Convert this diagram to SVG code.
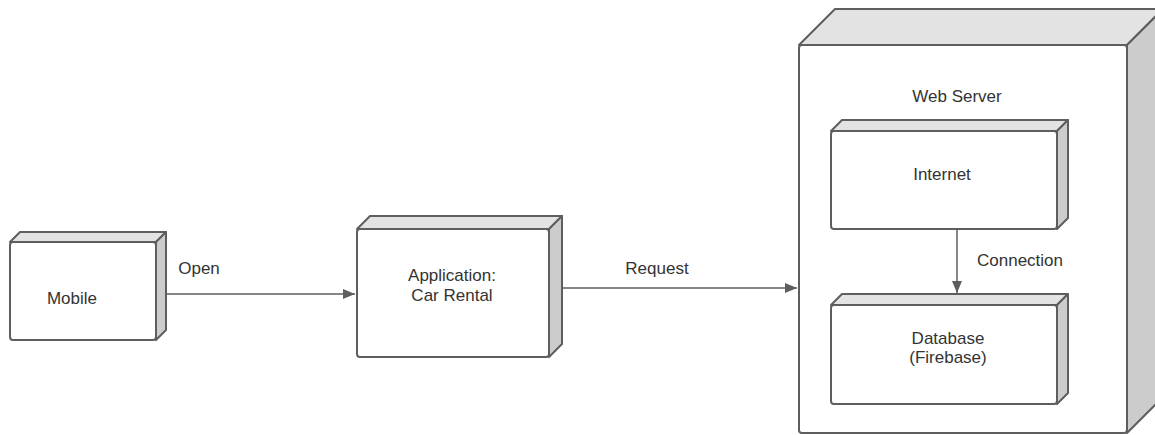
<svg xmlns="http://www.w3.org/2000/svg" width="1155" height="435" viewBox="0 0 1155 435">
  <style>
    .front { fill: #ffffff; stroke: #5e5e5e; stroke-width: 2; }
    .top { fill: #e3e3e3; stroke: #5e5e5e; stroke-width: 2; stroke-linejoin: round; }
    .side { fill: #cccccc; stroke: #5e5e5e; stroke-width: 2; stroke-linejoin: round; }
    .lbl { font-family: "Liberation Sans", Arial, sans-serif; font-size: 17px; fill: #333333; text-anchor: middle; }
    .edge { stroke: #5e5e5e; stroke-width: 1.5; fill: none; marker-end: url(#arrow); }
  </style>
  <defs>
    <marker id="arrow" viewBox="0 0 12 10" refX="12" refY="5" markerWidth="12" markerHeight="10" markerUnits="userSpaceOnUse" orient="auto">
      <path d="M0,0 L12,5 L0,10 Z" fill="#5e5e5e"/>
    </marker>
  </defs>
  <rect width="1155" height="435" fill="#ffffff"/>

  <!-- Mobile device node -->
  <g id="mobile">
    <path class="top" d="M10,242 L20,232 L166,232 L156,242 Z"/>
    <path class="side" d="M156,242 L166,232 L166,330 L156,340 Z"/>
    <rect class="front" x="10" y="242" width="146" height="98" rx="3"/>
    <text class="lbl" x="72" y="304">Mobile</text>
  </g>

  <!-- Application node -->
  <g id="application">
    <path class="top" d="M357,229 L370,216 L562,216 L549,229 Z"/>
    <path class="side" d="M549,229 L562,216 L562,344 L549,357 Z"/>
    <rect class="front" x="357" y="229" width="192" height="128" rx="3"/>
    <text class="lbl" x="452" y="281">Application:</text>
    <text class="lbl" x="452" y="301">Car Rental</text>
  </g>

  <!-- Web server node with nested nodes -->
  <g id="web-server">
    <path class="top" d="M799,45 L835,9 L1163,9 L1127,45 Z"/>
    <path class="side" d="M1127,45 L1163,9 L1163,397 L1127,433 Z"/>
    <rect class="front" x="799" y="45" width="328" height="388" rx="3"/>
    <text class="lbl" x="957" y="102">Web Server</text>
  </g>

  <g id="internet">
    <path class="top" d="M831,131 L842,120 L1068,120 L1057,131 Z"/>
    <path class="side" d="M1057,131 L1068,120 L1068,218 L1057,229 Z"/>
    <rect class="front" x="831" y="131" width="226" height="98" rx="3"/>
    <text class="lbl" x="942" y="180">Internet</text>
  </g>

  <g id="database">
    <path class="top" d="M831,305 L842,294 L1068,294 L1057,305 Z"/>
    <path class="side" d="M1057,305 L1068,294 L1068,393 L1057,404 Z"/>
    <rect class="front" x="831" y="305" width="226" height="99" rx="3"/>
    <text class="lbl" x="948" y="344">Database</text>
    <text class="lbl" x="948" y="363">(Firebase)</text>
  </g>

  <!-- Connectors -->
  <g id="connectors">
    <line class="edge" x1="167" y1="294" x2="355" y2="294"/>
    <text class="lbl" x="199" y="274">Open</text>
    <line class="edge" x1="563" y1="288" x2="797" y2="288"/>
    <text class="lbl" x="657" y="274">Request</text>
    <line class="edge" x1="957" y1="230" x2="957" y2="293"/>
    <text class="lbl" x="1020" y="266">Connection</text>
  </g>
</svg>
